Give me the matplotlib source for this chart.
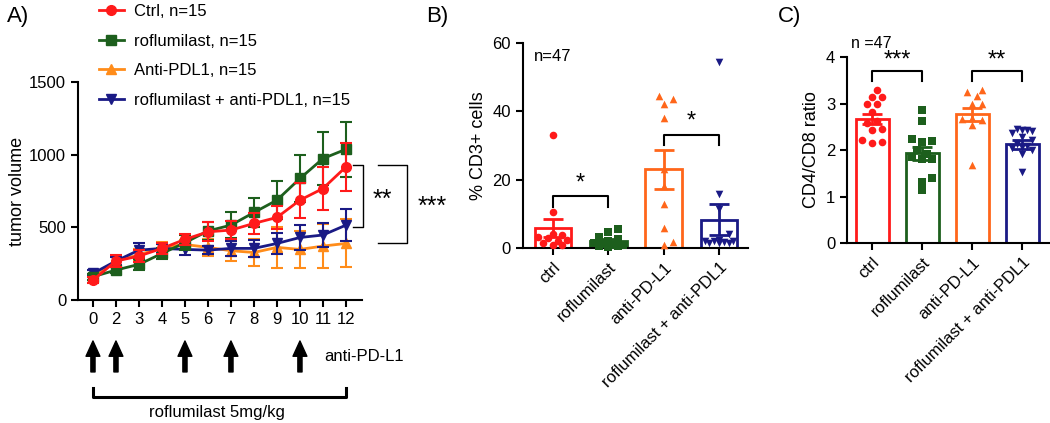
import matplotlib
matplotlib.use("Agg")
import matplotlib.pyplot as plt
import numpy as np
from matplotlib.transforms import blended_transform_factory

plt.rcParams["font.family"] = ["Liberation Sans", "DejaVu Sans"]
plt.rcParams["axes.linewidth"] = 1.5

# Colours
red = "#ff1a1a"
green = "#1d5f1d"
orange_a = "#ff8c1a"
orange = "#ff661a"
navy = "#1a1a85"

# Panel A: tumor growth (mean +/- error)
days = ["0", "2", "3", "4", "5", "6", "7", "8", "9", "10", "11", "12"]
ctrl_mean = [137, 268, 302, 355, 417, 469, 481, 527, 568, 687, 767, 916]
ctrl_err = [20, 40, 40, 40, 40, 65, 60, 70, 80, 120, 145, 165]
rofl_mean = [160, 206, 245, 320, 394, 475, 515, 602, 687, 836, 973, 1037]
rofl_err = [20, 20, 40, 40, 50, 60, 90, 100, 130, 160, 180, 190]
apdl1_mean = [160, 270, 310, 360, 382, 362, 339, 327, 362, 348, 371, 389]
apdl1_err = [20, 30, 40, 40, 30, 60, 70, 90, 140, 130, 150, 165]
combo_mean = [183, 268, 343, 355, 348, 343, 355, 355, 389, 430, 447, 515]
combo_err = [20, 30, 50, 30, 40, 30, 50, 60, 70, 85, 80, 110]
dose_days = ["0", "2", "5", "7", "10"]

# Panel B: % CD3+ cells
groups = ["ctrl", "roflumilast", "anti-PD-L1", "roflumilast + anti-PDL1"]
cd3_ctrl = [33.2, 10.6, 4.0, 3.8, 3.2, 2.8, 2.2, 2.0, 1.5, 1.0, 0.8]
cd3_rofl = [5.5, 4.6, 3.2, 2.5, 2.0, 1.6, 1.3, 1.0, 0.8, 0.6, 0.5, 0.4]
cd3_apdl1 = [44.5, 43.5, 42.2, 38.0, 23.0, 18.2, 13.0, 5.8, 1.7, 0.8]
cd3_combo = [54.5, 15.8, 11.5, 4.0, 2.2, 2.0, 1.8, 1.6, 2.0, 1.5, 1.4, 2.0]
cd3_mean = [5.9, 2.0, 23.0, 8.3]
cd3_sem = [2.7, 0.5, 5.7, 4.5]

# Panel C: CD4/CD8 ratio
r_ctrl = [3.30, 3.15, 3.13, 3.00, 2.98, 2.82, 2.62, 2.58, 2.45, 2.42, 2.22, 2.18, 2.15]
r_rofl = [2.85, 2.62, 2.24, 2.20, 2.18, 2.00, 1.91, 1.86, 1.80, 1.81, 1.39, 1.32, 1.14]
r_apdl1 = [3.30, 3.24, 3.16, 3.00, 2.99, 2.68, 2.66, 2.65, 2.54, 1.68]
r_combo = [2.46, 2.44, 2.42, 2.40, 2.36, 2.28, 2.22, 2.12, 2.08, 2.07, 2.05, 2.00, 1.92, 1.53]
ratio_mean = [2.67, 1.93, 2.77, 2.12]
ratio_sem = [0.11, 0.14, 0.14, 0.09]

bar_colors = [red, green, orange, navy]
bar_markers = ["o", "s", "^", "v"]


def swarm_offsets(ax, x0, vals, d_px, max_w):
    # beeswarm limited to the bar width; overlaps allowed when it gets crowded
    vals = np.asarray(vals, dtype=float)
    pts = ax.transData.transform(np.column_stack([np.full(len(vals), x0), vals]))
    py = pts[:, 1]
    px_per_unit = ax.transData.transform((1, 0))[0] - ax.transData.transform((0, 0))[0]
    lim = max_w * px_per_unit
    cands = [0.0]
    k = 1
    while k * d_px * 0.6 <= lim:
        cands += [k * d_px * 0.6, -k * d_px * 0.6]
        k += 1
    placed = []
    offs = np.zeros(len(vals))
    for i in np.argsort(py):
        best, best_d = 0.0, -1
        for c in cands:
            dmin = min([np.hypot(c - ox, py[i] - oy) for ox, oy in placed] or [1e9])
            if dmin >= d_px:
                best = c
                break
            if dmin > best_d:
                best, best_d = c, dmin
        placed.append((best, py[i]))
        offs[i] = best
    return offs / px_per_unit


def style_axes(ax):
    ax.spines["top"].set_visible(False)
    ax.spines["right"].set_visible(False)
    ax.tick_params(direction="out", length=5, width=1.5, labelsize=12)


def bracket(ax, x1, x2, y, h, text, ty, fs=17):
    ax.plot([x1, x1, x2, x2], [y - h, y, y, y - h], color="black", lw=1.5, clip_on=False)
    ax.text((x1 + x2) / 2, ty, text, ha="center", va="center", fontsize=fs)


fig = plt.figure(figsize=(10.5, 4.23), dpi=100)

# ---------------- Panel A ----------------
axA = fig.add_axes([0.0743, 0.2908, 0.2705, 0.5154])
style_axes(axA)
x = np.arange(len(days))
series = [
    (ctrl_mean, ctrl_err, red, "o", "Ctrl, n=15"),
    (rofl_mean, rofl_err, green, "s", "roflumilast, n=15"),
    (apdl1_mean, apdl1_err, orange_a, "^", "Anti-PDL1, n=15"),
    (combo_mean, combo_err, navy, "v", "roflumilast + anti-PDL1, n=15"),
]
handles = []
for z, (m, e, c, mk, lab) in zip([6, 4, 2, 3], series):
    axA.errorbar(x, m, yerr=e, color=c, lw=1.5, capsize=4, capthick=1.5, fmt="none", zorder=z)
    h, = axA.plot(x, m, color=c, lw=2, marker=mk, markersize=7, label=lab, zorder=z + 0.5)
    handles.append(h)
axA.set_xlim(-0.65, 11.7)
axA.set_ylim(0, 1500)
axA.set_yticks([0, 500, 1000, 1500])
axA.set_xticks(x)
axA.set_xticklabels(days)
axA.set_ylabel("tumor volume", fontsize=13, labelpad=2)
fig.legend(handles=handles, loc="upper left", bbox_to_anchor=(0.086, 1.01), frameon=False,
           fontsize=12, handlelength=1.5, handletextpad=0.6, labelspacing=0.87, borderpad=0)

# significance brackets on the right
axA.plot([11.3, 11.74, 11.74, 11.3], [929, 929, 502, 502], color="black", lw=1, clip_on=False)
axA.text(12.6, 688, "**", ha="center", va="center", fontsize=18)
axA.plot([12.39, 13.65, 13.65, 12.39], [929, 929, 392, 392], color="black", lw=1, clip_on=False)
axA.text(14.74, 640, "***", ha="center", va="center", fontsize=18)

# treatment arrows and roflumilast bracket
trA = blended_transform_factory(axA.transData, axA.transAxes)
for d in dose_days:
    i = days.index(d)
    axA.annotate("", xy=(i, -0.188), xytext=(i, -0.33), xycoords=trA, textcoords=trA,
                 arrowprops=dict(width=3, headwidth=10, headlength=11, color="black", shrink=0))
axA.text(10.04, -0.261, "anti-PD-L1", transform=trA, ha="left", va="center", fontsize=12)
axA.plot([0, 0, 11, 11], [-0.404, -0.445, -0.445, -0.404], transform=trA, color="black",
         lw=2.2, clip_on=False)
axA.text(5.4, -0.518, "roflumilast 5mg/kg", transform=trA, ha="center", va="center", fontsize=12)

fig.text(0.007, 0.962, "A)", fontsize=16, va="center")
fig.text(0.406, 0.962, "B)", fontsize=16, va="center")
fig.text(0.741, 0.962, "C)", fontsize=16, va="center")


def bar_panel(ax, pts_lists, means, sems):
    for i, (vals, mn, se) in enumerate(zip(pts_lists, means, sems)):
        c = bar_colors[i]
        ax.bar(i, mn, width=0.66, facecolor="white", edgecolor=c, lw=2, zorder=1)
        offs = swarm_offsets(ax, i, vals, 8.0, 0.28)
        ax.scatter(i + offs, vals, s=30, color=c, marker=bar_markers[i], zorder=3,
                   linewidths=0, clip_on=False)
        ax.errorbar(i, mn, yerr=se, color=c, lw=2, capsize=7, capthick=2, zorder=2)
    ax.set_xticks(range(len(groups)))
    ax.set_xticklabels(groups, rotation=45, ha="right", rotation_mode="anchor", fontsize=12)


# ---------------- Panel B ----------------
axB = fig.add_axes([0.498, 0.4137, 0.2143, 0.4846])
style_axes(axB)
axB.set_xlim(-0.54, 3.52)
axB.set_ylim(0, 60)
axB.set_yticks([0, 20, 40, 60])
bar_panel(axB, [cd3_ctrl, cd3_rofl, cd3_apdl1, cd3_combo], cd3_mean, cd3_sem)
axB.set_ylabel("% CD3+ cells", fontsize=13, labelpad=4)
axB.text(0.0, 56, "n=47", fontsize=12, ha="center", va="center")
bracket(axB, 0, 1, 15.1, 3.0, "*", 19.0)
bracket(axB, 2, 3, 33.2, 3.0, "*", 37.0)

# ---------------- Panel C ----------------
axC = fig.add_axes([0.8067, 0.4255, 0.1933, 0.4397])
style_axes(axC)
axC.set_xlim(-0.5, 3.56)
axC.set_ylim(0, 4)
axC.set_yticks([0, 1, 2, 3, 4])
bar_panel(axC, [r_ctrl, r_rofl, r_apdl1, r_combo], ratio_mean, ratio_sem)
axC.set_ylabel("CD4/CD8 ratio", fontsize=13, labelpad=4)
axC.text(-0.42, 4.3, "n =47", fontsize=11.5, ha="left", va="center")
bracket(axC, 0, 1, 3.7, 0.22, "***", 3.93)
bracket(axC, 2, 3, 3.7, 0.22, "**", 3.93)

fig.savefig("out.png", dpi=100)
